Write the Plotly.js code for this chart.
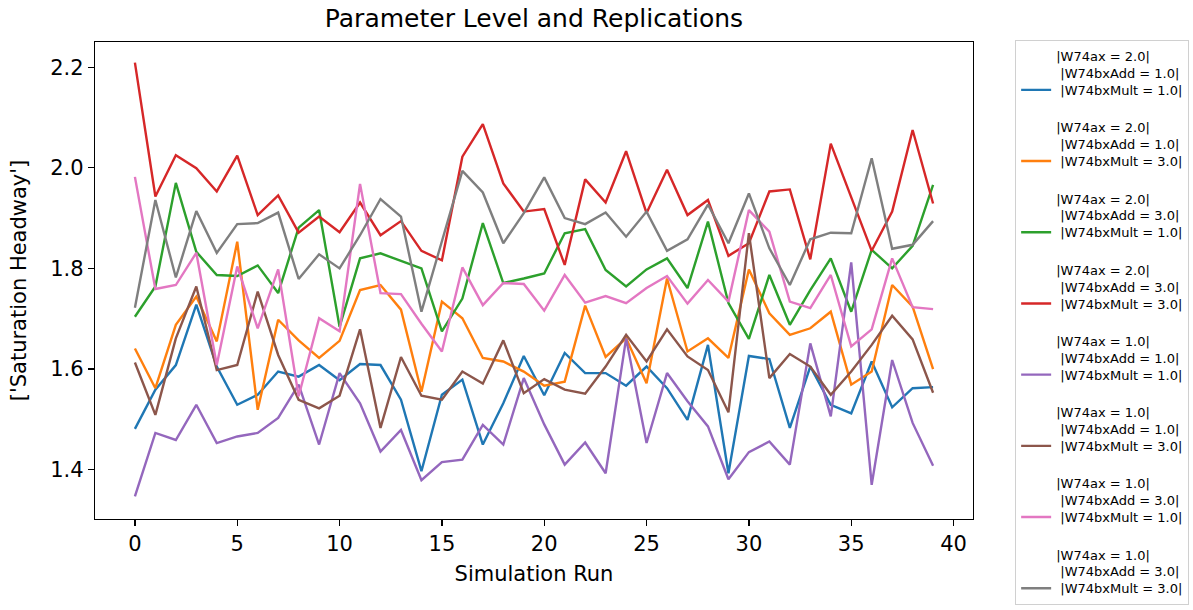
<!DOCTYPE html>
<html>
<head>
<meta charset="utf-8">
<script src="https://cdn.plot.ly/plotly-3.0.1.min.js"></script>
<style>html,body{margin:0;padding:0;background:#fff;}#chart{width:1193px;height:610px;}</style>
</head>
<body>
<div id="chart"></div>
<script>
const runs = Array.from({length: 40}, (_, i) => i);

const seriesNames = [
  "|W74ax = 2.0|<br>\u00a0|W74bxAdd = 1.0|<br>\u00a0|W74bxMult = 1.0|",
  "|W74ax = 2.0|<br>\u00a0|W74bxAdd = 1.0|<br>\u00a0|W74bxMult = 3.0|",
  "|W74ax = 2.0|<br>\u00a0|W74bxAdd = 3.0|<br>\u00a0|W74bxMult = 1.0|",
  "|W74ax = 2.0|<br>\u00a0|W74bxAdd = 3.0|<br>\u00a0|W74bxMult = 3.0|",
  "|W74ax = 1.0|<br>\u00a0|W74bxAdd = 1.0|<br>\u00a0|W74bxMult = 1.0|",
  "|W74ax = 1.0|<br>\u00a0|W74bxAdd = 1.0|<br>\u00a0|W74bxMult = 3.0|",
  "|W74ax = 1.0|<br>\u00a0|W74bxAdd = 3.0|<br>\u00a0|W74bxMult = 1.0|",
  "|W74ax = 1.0|<br>\u00a0|W74bxAdd = 3.0|<br>\u00a0|W74bxMult = 3.0|"
];

const seriesColors = ["#1f77b4", "#ff7f0e", "#2ca02c", "#d62728", "#9467bd", "#8c564b", "#e377c2", "#7f7f7f"];

const ax2_add1_mult1 = [1.481, 1.559, 1.608, 1.728, 1.605, 1.529, 1.549, 1.595, 1.585, 1.608, 1.578, 1.61, 1.608, 1.539, 1.397, 1.549, 1.579, 1.45, 1.532, 1.626, 1.548, 1.632, 1.592, 1.592, 1.567, 1.605, 1.562, 1.499, 1.648, 1.393, 1.626, 1.62, 1.483, 1.605, 1.529, 1.512, 1.615, 1.524, 1.562, 1.564];
const ax2_add1_mult3 = [1.641, 1.562, 1.688, 1.744, 1.655, 1.853, 1.519, 1.698, 1.657, 1.622, 1.656, 1.757, 1.767, 1.718, 1.555, 1.734, 1.701, 1.622, 1.615, 1.595, 1.567, 1.575, 1.726, 1.624, 1.661, 1.572, 1.78, 1.635, 1.661, 1.622, 1.798, 1.711, 1.668, 1.681, 1.714, 1.569, 1.595, 1.767, 1.724, 1.6];
const ax2_add3_mult1 = [1.704, 1.764, 1.970, 1.833, 1.787, 1.785, 1.806, 1.751, 1.881, 1.916, 1.684, 1.82, 1.83, 1.815, 1.8, 1.675, 1.74, 1.89, 1.771, 1.78, 1.79, 1.87, 1.878, 1.797, 1.764, 1.798, 1.82, 1.761, 1.893, 1.731, 1.66, 1.787, 1.688, 1.757, 1.82, 1.714, 1.837, 1.8, 1.845, 1.966];
const ax2_add3_mult3 = [2.209, 1.943, 2.025, 1.999, 1.953, 2.024, 1.906, 1.945, 1.871, 1.903, 1.872, 1.931, 1.866, 1.894, 1.835, 1.816, 2.022, 2.087, 1.969, 1.913, 1.918, 1.807, 1.977, 1.931, 2.033, 1.91, 1.996, 1.906, 1.936, 1.825, 1.85, 1.953, 1.957, 1.818, 2.048, 1.943, 1.835, 1.913, 2.075, 1.929];
const ax1_add1_mult1 = [1.347, 1.473, 1.459, 1.529, 1.453, 1.466, 1.473, 1.503, 1.569, 1.45, 1.592, 1.532, 1.436, 1.479, 1.379, 1.415, 1.42, 1.489, 1.45, 1.582, 1.49, 1.41, 1.454, 1.393, 1.661, 1.453, 1.592, 1.536, 1.486, 1.381, 1.435, 1.456, 1.41, 1.651, 1.506, 1.812, 1.37, 1.618, 1.493, 1.408];
const ax1_add1_mult3 = [1.613, 1.509, 1.661, 1.764, 1.598, 1.608, 1.754, 1.628, 1.539, 1.522, 1.547, 1.679, 1.483, 1.624, 1.547, 1.539, 1.595, 1.571, 1.657, 1.552, 1.58, 1.559, 1.551, 1.605, 1.668, 1.615, 1.679, 1.625, 1.598, 1.514, 1.87, 1.582, 1.63, 1.605, 1.549, 1.595, 1.648, 1.706, 1.659, 1.553];
const ax1_add3_mult1 = [1.982, 1.759, 1.767, 1.831, 1.608, 1.804, 1.681, 1.798, 1.546, 1.701, 1.675, 1.968, 1.751, 1.749, 1.69, 1.635, 1.802, 1.727, 1.771, 1.769, 1.716, 1.787, 1.732, 1.745, 1.731, 1.761, 1.785, 1.73, 1.777, 1.734, 1.916, 1.873, 1.734, 1.721, 1.787, 1.645, 1.679, 1.82, 1.723, 1.719];
const ax1_add3_mult3 = [1.722, 1.936, 1.782, 1.914, 1.831, 1.888, 1.89, 1.911, 1.779, 1.828, 1.80, 1.866, 1.938, 1.903, 1.714, 1.855, 1.994, 1.951, 1.85, 1.91, 1.981, 1.9, 1.888, 1.911, 1.863, 1.913, 1.835, 1.858, 1.927, 1.85, 1.949, 1.84, 1.767, 1.858, 1.871, 1.87, 2.019, 1.839, 1.847, 1.894];

const allSeries = [ax2_add1_mult1, ax2_add1_mult3, ax2_add3_mult1, ax2_add3_mult3, ax1_add1_mult1, ax1_add1_mult3, ax1_add3_mult1, ax1_add3_mult3];

const xTickVals = [0, 5, 10, 15, 20, 25, 30, 35, 40];
const yTickVals = [1.4, 1.6, 1.8, 2.0, 2.2];

const traces = allSeries.map((ys, i) => ({
  x: runs,
  y: ys,
  type: 'scatter',
  mode: 'lines',
  name: seriesNames[i],
  legendgroup: 'g' + i,
  line: {color: seriesColors[i], width: 2.4}
}));

const font = "DejaVu Sans, sans-serif";

const layout = {
  width: 1193,
  height: 610,
  margin: {l: 95, r: 220, t: 42, b: 91, autoexpand: false},
  paper_bgcolor: '#ffffff',
  plot_bgcolor: '#ffffff',
  font: {family: font, color: '#000000', size: 21},
  title: {text: 'Parameter Level and Replications', font: {family: font, size: 25, color: '#000'}, x: 0.5, xref: 'paper', y: 1 - 18/610, yref: 'container', yanchor: 'middle'},
  xaxis: {
    range: [-1.95, 40.95],
    tickvals: xTickVals,
    ticks: 'outside', ticklen: 6, tickwidth: 1.2, tickcolor: '#000',
    showline: true, mirror: true, linecolor: '#000', linewidth: 1.2,
    showgrid: false, zeroline: false,
    tickfont: {family: font, size: 21, color: '#000'},
    title: {text: 'Simulation Run', font: {family: font, size: 21, color: '#000'}, standoff: 10}
  },
  yaxis: {
    range: [1.302, 2.25],
    tickvals: yTickVals,
    tickformat: '.1f',
    ticks: 'outside', ticklen: 6, tickwidth: 1.2, tickcolor: '#000',
    showline: true, mirror: true, linecolor: '#000', linewidth: 1.2,
    showgrid: false, zeroline: false,
    tickfont: {family: font, size: 21, color: '#000'},
    title: {text: "['Saturation Headway']", font: {family: font, size: 21, color: '#000'}, standoff: 17}
  },
  showlegend: true,
  legend: {
    x: 1.048, xanchor: 'left', y: 1.004, yanchor: 'top',
    bgcolor: '#ffffff', bordercolor: '#d0d0d0', borderwidth: 1,
    font: {family: font, size: 13, color: '#000'},
    tracegroupgap: 17.5,
    valign: 'bottom',
    itemwidth: 30,
    maxheight: 2000
  }
};

Plotly.newPlot('chart', traces, layout, {displayModeBar: false, staticPlot: true});
</script>
</body>
</html>
